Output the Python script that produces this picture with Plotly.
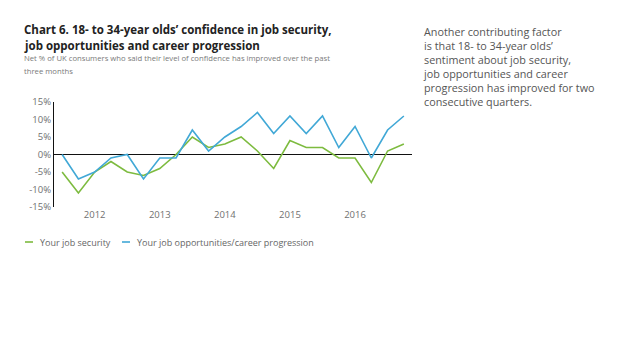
import plotly.graph_objects as go

# Data: quarterly index (22 quarters) with year labels
quarters = list(range(22))
job_security = [-5, -11, -5, -2, -5, -6, -4, 0, 5, 2, 3, 5, 1, -4, 4, 2, 2, -1, -1, -8, 1, 3]
job_opportunities = [0, -7, -5, -1, 0, -7, -1, -1, 7, 1, 5, 8, 12, 6, 11, 6, 11, 2, 8, -1, 7, 11]
year_tick_positions = [2, 6, 10, 14, 18]
year_tick_labels = ["2012", "2013", "2014", "2015", "2016"]
y_tick_values = [15, 10, 5, 0, -5, -10, -15]
y_tick_labels = ["15%", "10%", "5%", "0%", "-5%", "-10%", "-15%"]
series_names = ["Your job security", "Your job opportunities/career progression"]

GREEN = "#7DBB3F"
BLUE = "#41A8D6"
FONT = "Open Sans"

W, H = 638, 359
L, R, T, B = 54, 412, 102, 207  # plot area in pixels


def px_x(x):
    return (x - L) / (R - L)


def px_y(y):
    return (B - y) / (B - T)


fig = go.Figure()
fig.add_trace(go.Scatter(x=quarters, y=job_security, mode="lines", name=series_names[0],
                         line=dict(color=GREEN, width=1.6), showlegend=False))
fig.add_trace(go.Scatter(x=quarters, y=job_opportunities, mode="lines", name=series_names[1],
                         line=dict(color=BLUE, width=1.6), showlegend=False))

fig.update_layout(
    width=W, height=H,
    margin=dict(l=L, r=W - R, t=T, b=H - B),
    plot_bgcolor="white", paper_bgcolor="white",
    font=dict(family=FONT, color="#666666", size=9),
    xaxis=dict(range=[-0.5, 21.5], tickvals=year_tick_positions, ticktext=year_tick_labels,
               showgrid=False, zeroline=False, showline=False, ticks="",
               tickfont=dict(size=9.5, color="#707070")),
    yaxis=dict(range=[-15, 15], tickvals=y_tick_values, ticktext=y_tick_labels,
               showgrid=False, zeroline=True, zerolinecolor="#111111", zerolinewidth=1.2,
               showline=True, linecolor="#111111", linewidth=1.2, ticks="",
               tickfont=dict(size=9.5, color="#707070")),
)

annotations = []


def add_text(text, x, y, size, color, bold=False):
    annotations.append(dict(
        text=("<b>%s</b>" % text) if bold else text,
        x=px_x(x), y=px_y(y), xref="paper", yref="paper",
        xanchor="left", yanchor="middle", showarrow=False, align="left",
        font=dict(family=FONT, size=size, color=color)))


add_text("Chart 6. 18- to 34-year olds’ confidence in job security,", 22, 29, 11.5, "#222222", bold=True)
add_text("job opportunities and career progression", 22, 46, 11.5, "#222222", bold=True)
add_text("Net % of UK consumers who said their level of confidence has improved over the past", 22, 58.5, 7.7, "#7a7a7a")
add_text("three months", 22, 71, 7.7, "#7a7a7a")

right_lines = ["Another contributing factor",
               "is that 18- to 34-year olds’",
               "sentiment about job security,",
               "job opportunities and career",
               "progression has improved for two",
               "consecutive quarters."]
annotations.append(dict(
    text="<br>".join(right_lines), x=px_x(421), y=px_y(22), xref="paper", yref="paper",
    xanchor="left", yanchor="top", showarrow=False, align="left",
    font=dict(family=FONT, size=10.8, color="#555555")))

# legend: coloured line samples and labels
shapes = [
    dict(type="line", xref="paper", yref="paper", x0=px_x(25), x1=px_x(33), y0=px_y(242), y1=px_y(242),
         line=dict(color=GREEN, width=1.6)),
    dict(type="line", xref="paper", yref="paper", x0=px_x(122), x1=px_x(130), y0=px_y(242), y1=px_y(242),
         line=dict(color=BLUE, width=1.6)),
]
add_text(series_names[0], 38, 242, 9, "#666666")
add_text(series_names[1], 135, 242, 9, "#666666")

fig.update_layout(annotations=annotations, shapes=shapes)
fig.write_html("out.html", config={"displayModeBar": False},
               post_script="document.body.style.margin='0';document.body.style.padding='0';")
